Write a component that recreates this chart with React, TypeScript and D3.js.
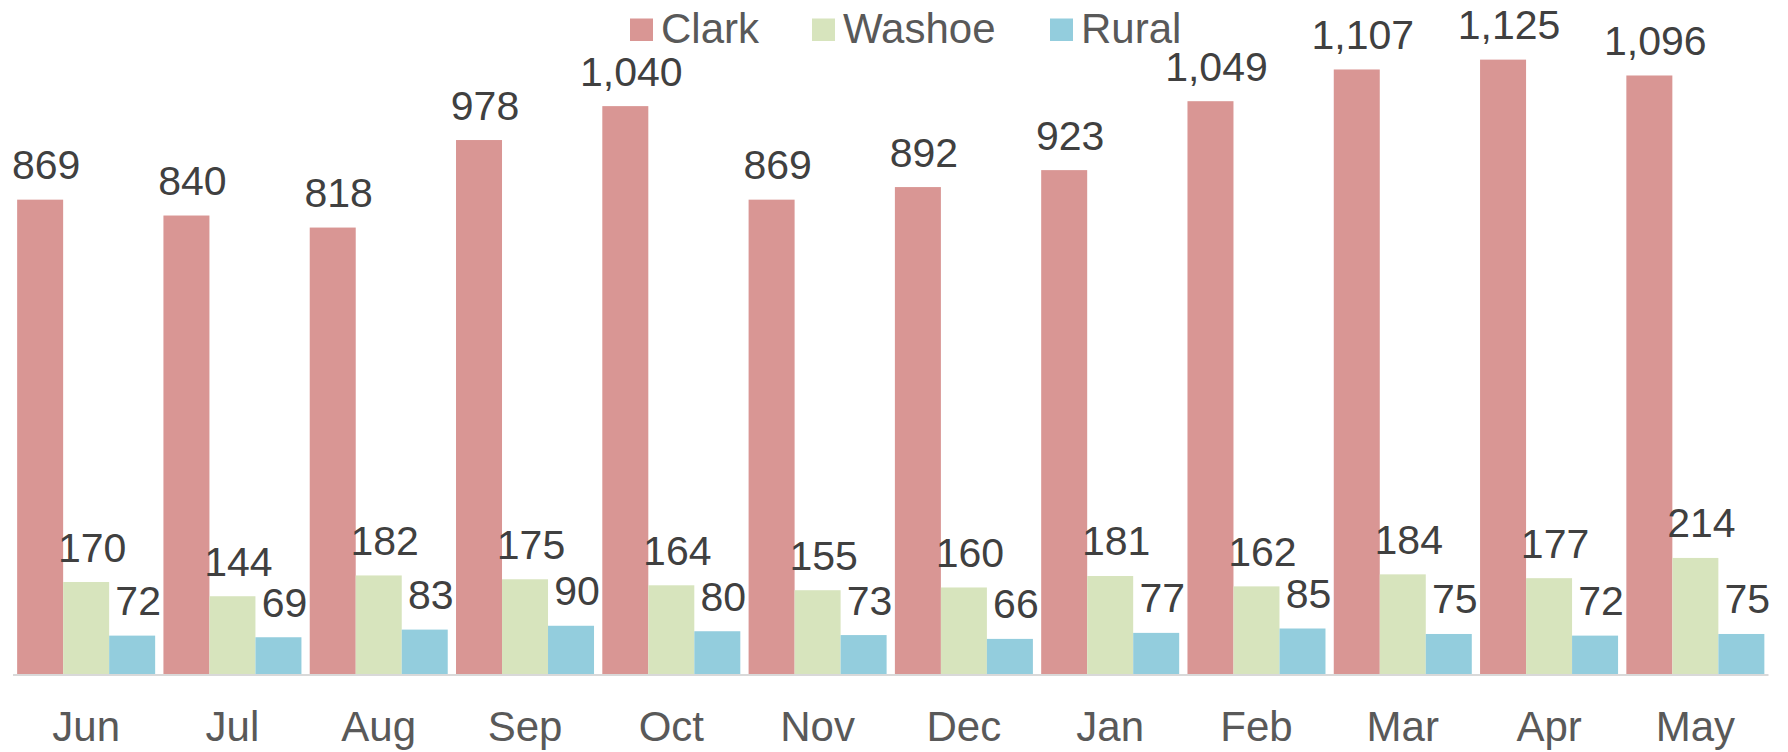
import React from "react";
import * as d3 from "d3";

const months = ["Jun", "Jul", "Aug", "Sep", "Oct", "Nov", "Dec", "Jan", "Feb", "Mar", "Apr", "May"];
const seriesNames = ["Clark", "Washoe", "Rural"];
const clark = [869, 840, 818, 978, 1040, 869, 892, 923, 1049, 1107, 1125, 1096];
const washoe = [170, 144, 182, 175, 164, 155, 160, 181, 162, 184, 177, 214];
const rural = [72, 69, 83, 90, 80, 73, 66, 77, 85, 75, 72, 75];
const colors = ["#D99694", "#D7E4BD", "#93CDDD"];

const W = 1788;
const H = 752;
const FONT = "'Liberation Sans', Arial, sans-serif";

export default function App() {
  const values = [clark, washoe, rural];
  const x0 = d3.scaleBand<string>().domain(months).range([13, 1768.5]).paddingInner(0).paddingOuter(0);
  const x1 = d3.scaleBand<string>().domain(seriesNames).range([0, x0.bandwidth()]).paddingInner(0).paddingOuter(0.09);
  const y = d3.scaleLinear().domain([0, 1200]).range([675, 18.6]);
  const fmt = d3.format(",");

  const legendSquares = [630, 812, 1050];

  return (
    <svg width={W} height={H} style={{ position: "absolute", left: 0, top: 0, background: "#fff" }} fontFamily={FONT}>
      <rect x={0} y={0} width={W} height={H} fill="#fff" />
      {months.map((m, i) => (
        <g key={m}>
          {seriesNames.map((s, k) => {
            const v = values[k][i];
            const bx = (x0(m) as number) + (x1(s) as number);
            const bw = x1.bandwidth();
            return (
              <g key={s}>
                <rect x={bx} y={y(v)} width={bw} height={y(0) - y(v)} fill={colors[k]} />
              </g>
            );
          })}
        </g>
      ))}
      <line x1={13} x2={1768.5} y1={675} y2={675} stroke="#D9D9D9" strokeWidth={2} />
      {months.map((m, i) => (
        <g key={m + "-lab"}>
          {seriesNames.map((s, k) => {
            const v = values[k][i];
            const cx = (x0(m) as number) + (x1(s) as number) + x1.bandwidth() / 2 + 6;
            return (
              <text key={s} x={cx} y={y(v) - 20.5} textAnchor="middle" fontSize={41} fill="#404040">
                {fmt(v)}
              </text>
            );
          })}
          <text x={(x0(m) as number) + x0.bandwidth() / 2} y={741} textAnchor="middle" fontSize={42} fill="#595959">
            {m}
          </text>
        </g>
      ))}
      {seriesNames.map((s, k) => (
        <g key={s + "-leg"}>
          <rect x={legendSquares[k]} y={18.5} width={23} height={22.5} fill={colors[k]} />
          <text x={legendSquares[k] + 31} y={43.3} fontSize={42} fill="#595959">
            {s}
          </text>
        </g>
      ))}
    </svg>
  );
}
